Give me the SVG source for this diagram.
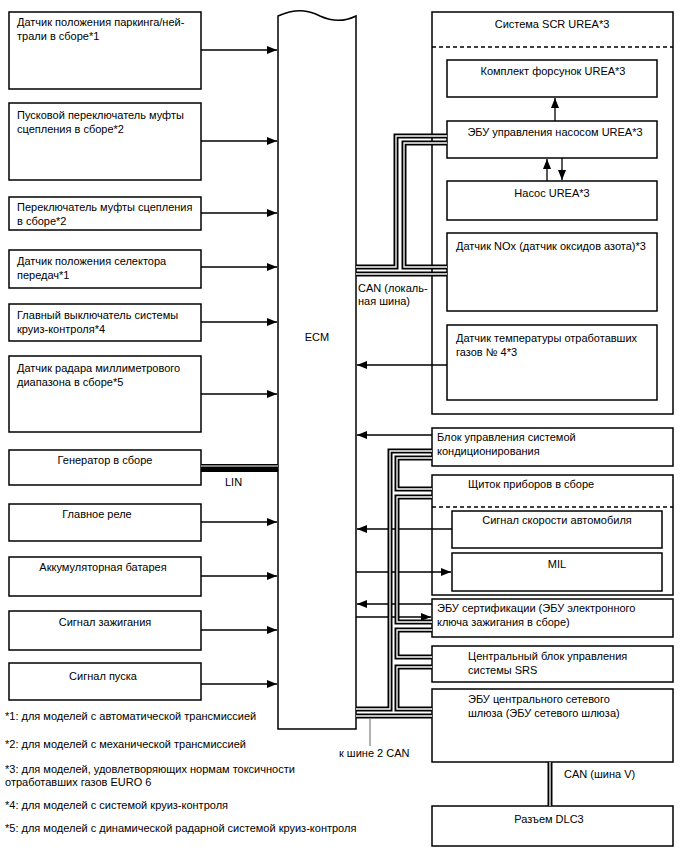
<svg xmlns="http://www.w3.org/2000/svg" width="688" height="852" viewBox="0 0 688 852">
<style>
.bx{fill:#fff;stroke:#000;stroke-width:1.5}
.t{font-family:"Liberation Sans",Arial,sans-serif;font-size:11px;fill:#000}
.c{text-anchor:middle}
.ar{stroke:#000;stroke-width:1.3;fill:none;marker-end:url(#ah)}
.bo{stroke:#000;stroke-width:5;fill:none}
.bi{stroke:#fff;stroke-width:1.3;fill:none}
.dash{stroke:#000;stroke-width:1.3;stroke-dasharray:4 3;fill:none}
</style>
<defs>
<marker id="ah" viewBox="0 0 10 8" refX="10" refY="4" markerWidth="10" markerHeight="8" markerUnits="userSpaceOnUse" orient="auto"><path d="M0,0 L10,4 L0,8 z" fill="#000"/></marker>
</defs>
<rect width="688" height="852" fill="#fff"/>

<!-- left nodes -->
<g id="n1"><rect class="bx" x="9" y="12" width="192" height="77"/><text class="t" x="17" y="26">Датчик положения паркинга/ней-</text><text class="t" x="17" y="40">трали в сборе*1</text></g>
<g id="n2"><rect class="bx" x="9" y="103" width="192" height="77"/><text class="t" x="17" y="119">Пусковой переключатель муфты</text><text class="t" x="17" y="133">сцепления в сборе*2</text></g>
<g id="n3"><rect class="bx" x="9" y="197" width="192" height="33"/><text class="t" x="17" y="211">Переключатель муфты сцепления</text><text class="t" x="17" y="225">в сборе*2</text></g>
<g id="n4"><rect class="bx" x="9" y="250" width="192" height="38"/><text class="t" x="17" y="265">Датчик положения селектора</text><text class="t" x="17" y="279">передач*1</text></g>
<g id="n5"><rect class="bx" x="9" y="304" width="192" height="37"/><text class="t" x="17" y="319">Главный выключатель системы</text><text class="t" x="17" y="333">круиз-контроля*4</text></g>
<g id="n6"><rect class="bx" x="9" y="356" width="192" height="76"/><text class="t" x="17" y="372">Датчик радара миллиметрового</text><text class="t" x="17" y="386">диапазона в сборе*5</text></g>
<g id="n7"><rect class="bx" x="9" y="450" width="192" height="35"/><text class="t c" x="105" y="464">Генератор в сборе</text></g>
<g id="n8"><rect class="bx" x="9" y="504" width="192" height="37"/><text class="t c" x="97" y="518">Главное реле</text></g>
<g id="n9"><rect class="bx" x="9" y="557" width="192" height="39"/><text class="t c" x="103" y="571">Аккумуляторная батарея</text></g>
<g id="n10"><rect class="bx" x="9" y="611" width="192" height="39"/><text class="t c" x="105" y="626">Сигнал зажигания</text></g>
<g id="n11"><rect class="bx" x="9" y="663" width="192" height="37"/><text class="t c" x="103" y="680">Сигнал пуска</text></g>

<!-- ECM -->
<g id="ecm"><path class="bx" d="M278,16 C296,8 308,10 320,16 C333,22 346,21 356,16 L356,729 L278,729 Z"/><text class="t c" x="317" y="341">ECM</text></g>

<!-- right nodes -->
<g id="scr"><rect class="bx" x="432" y="12" width="241" height="402"/><text class="t c" x="552" y="28">Система SCR UREA*3</text><path class="dash" d="M432,47 H673"/></g>
<g id="inj"><rect class="bx" x="447" y="60" width="210" height="37"/><text class="t c" x="553" y="75">Комплект форсунок UREA*3</text></g>
<g id="pecu"><rect class="bx" x="447" y="121" width="210" height="37"/><text class="t c" x="555" y="136">ЭБУ управления насосом UREA*3</text></g>
<g id="pump"><rect class="bx" x="447" y="181" width="210" height="39"/><text class="t c" x="552" y="197">Насос UREA*3</text></g>
<g id="nox"><rect class="bx" x="447" y="233" width="210" height="78"/><text class="t" x="456" y="250">Датчик NOx (датчик оксидов азота)*3</text></g>
<g id="temp"><rect class="bx" x="447" y="325" width="210" height="75"/><text class="t" x="456" y="342">Датчик температуры отработавших</text><text class="t" x="456" y="356">газов № 4*3</text></g>
<g id="ac"><rect class="bx" x="432" y="428" width="241" height="38"/><text class="t" x="437" y="441">Блок управления системой</text><text class="t" x="437" y="455">кондиционирования</text></g>
<g id="meter"><rect class="bx" x="432" y="475" width="241" height="120"/><text class="t" x="468" y="488">Щиток приборов в сборе</text><path class="dash" d="M432,507 H673"/></g>
<g id="spd"><rect class="bx" x="452" y="511" width="210" height="37"/><text class="t c" x="557" y="524">Сигнал скорости автомобиля</text></g>
<g id="mil"><rect class="bx" x="452" y="553" width="210" height="38"/><text class="t c" x="557" y="568">MIL</text></g>
<g id="cert"><rect class="bx" x="432" y="599" width="241" height="38"/><text class="t" x="437" y="612">ЭБУ сертификации (ЭБУ электронного</text><text class="t" x="437" y="626">ключа зажигания в сборе)</text></g>
<g id="srs"><rect class="bx" x="432" y="646" width="241" height="36"/><text class="t" x="468" y="660">Центральный блок управления</text><text class="t" x="468" y="674">системы SRS</text></g>
<g id="gw"><rect class="bx" x="432" y="689" width="241" height="73"/><text class="t" x="468" y="703">ЭБУ центрального сетевого</text><text class="t" x="468" y="717">шлюза (ЭБУ сетевого шлюза)</text></g>
<g id="dlc"><rect class="bx" x="432" y="806" width="241" height="40"/><text class="t c" x="549" y="823">Разъем DLC3</text></g>

<!-- connectors -->
<g id="connectors">
<path class="ar" d="M201,50 H277"/>
<path class="ar" d="M201,141 H277"/>
<path class="ar" d="M201,213 H277"/>
<path class="ar" d="M201,267 H277"/>
<path class="ar" d="M201,322 H277"/>
<path class="ar" d="M201,394 H277"/>
<path class="ar" d="M201,522 H277"/>
<path class="ar" d="M201,576 H277"/>
<path class="ar" d="M201,630 H277"/>
<path class="ar" d="M201,684 H277"/>
<!-- LIN -->
<path d="M201,468 H278" stroke="#000" stroke-width="8" fill="none"/>
<path d="M201,466 H278" stroke="#fff" stroke-width="1.2" fill="none"/>

<path class="ar" d="M555,121 V98"/>
<path class="ar" d="M547,181 V159"/>
<path class="ar" d="M562,158 V180"/>

<path class="ar" d="M447,365 H357"/>
<path class="ar" d="M432,435 H357"/>
<path class="ar" d="M452,529 H357"/>
<path class="ar" d="M356,572 H451"/>
<path class="ar" d="M432,604 H357"/>
<path class="ar" d="M356,617 H431"/>

<!-- CAN local -->
<path class="bo" d="M356,267 H396 V136 H447"/><path class="bi" d="M356,267 H396 V136 H447"/>
<path class="bo" d="M447,143 H404 V267 H447"/><path class="bi" d="M447,143 H404 V267 H447"/>
<path class="bo" d="M356,274 H447"/><path class="bi" d="M356,274 H447"/>

<!-- CAN 2 -->
<path class="bo" d="M432,451 H390 V709 H356"/><path class="bi" d="M432,451 H390 V709 H356"/>
<path class="bo" d="M432,458 H397 V489 H432"/><path class="bi" d="M432,458 H397 V489 H432"/>
<path class="bo" d="M432,497 H397 V622 H432"/><path class="bi" d="M432,497 H397 V622 H432"/>
<path class="bo" d="M432,630 H397 V657 H432"/><path class="bi" d="M432,630 H397 V657 H432"/>
<path class="bo" d="M432,667 H397 V709 H432"/><path class="bi" d="M432,667 H397 V709 H432"/>
<path class="bo" d="M356,716 H432"/><path class="bi" d="M356,716 H432"/>
<path d="M370,719 V746" stroke="#888" stroke-width="1.3"/>

<!-- CAN V -->
<path class="bo" d="M550,762 V806"/><path class="bi" d="M550,762 V806"/>
</g>

<text class="t" x="358" y="292">CAN (локаль-</text>
<text class="t" x="358" y="305">ная шина)</text>
<text class="t" x="225" y="486">LIN</text>
<text class="t" x="339" y="757">к шине 2 CAN</text>
<text class="t" x="564" y="778">CAN (шина V)</text>

<text class="t" x="5" y="720">*1: для моделей с автоматической трансмиссией</text>
<text class="t" x="5" y="748">*2: для моделей с механической трансмиссией</text>
<text class="t" x="5" y="773">*3: для моделей, удовлетворяющих нормам токсичности</text>
<text class="t" x="5" y="786">отработавших газов EURO 6</text>
<text class="t" x="5" y="809">*4: для моделей с системой круиз-контроля</text>
<text class="t" x="5" y="832">*5: для моделей с динамической радарной системой круиз-контроля</text>
</svg>
